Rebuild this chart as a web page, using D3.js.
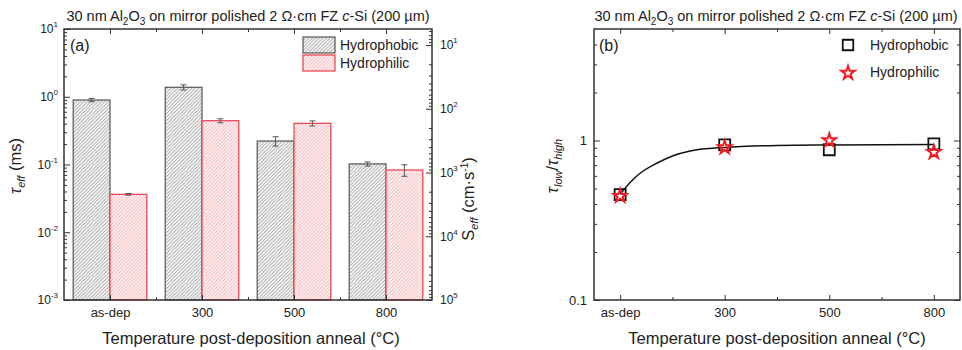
<!DOCTYPE html>
<html>
<head>
<meta charset="utf-8">
<script src="https://d3js.org/d3.v7.min.js"></script>
<style>
  body { margin: 0; background: #fff; }
  svg { font-family: "Liberation Sans", Arial, sans-serif; }
  .tick line { stroke: #333; }
  .tick text { fill: #222; }
</style>
</head>
<body>
<div id="chart"></div>
<script>
// data
const categories = ["as-dep", "300", "500", "800"];
const tauHydrophobic = [0.895, 1.38, 0.222, 0.102];      // ms
const tauHydrophobicErr = [0.05, 0.12, 0.035, 0.007];
const tauHydrophilic = [0.0363, 0.443, 0.405, 0.083];    // ms
const tauHydrophilicErr = [0.001, 0.03, 0.035, 0.016];
const ratioHydrophobic = [0.458, 0.94, 0.875, 0.953];
const ratioHydrophilic = [0.455, 0.917, 1.015, 0.857];
const fitX = [0, 0.1, 0.2, 0.35, 0.5, 0.67, 1, 1.5, 2, 3];
const fitY = [0.46, 0.55, 0.63, 0.72, 0.8, 0.86, 0.905, 0.93, 0.938, 0.944];
const seriesNames = ["Hydrophobic", "Hydrophilic"];

const W = 962, H = 350;
const svg = d3.select("#chart").append("svg")
    .attr("width", W).attr("height", H);

// hatch patterns
const defs = svg.append("defs");
function hatch(id, color, bg) {
    const p = defs.append("pattern")
        .attr("id", id)
        .attr("patternUnits", "userSpaceOnUse")
        .attr("width", 3.5).attr("height", 3.5);
    p.append("rect").attr("width", 3.5).attr("height", 3.5).attr("fill", bg);
    p.append("path")
        .attr("d", "M-1,1 l2,-2 M0,3.5 l3.5,-3.5 M2.5,4.5 l2,-2")
        .attr("stroke", color).attr("stroke-width", 0.8);
}
hatch("hatchGray", "#8a8a8a", "#f4f4f4");
hatch("hatchRed", "#f3a0a6", "#fdf0f1");

function logMinor(lo, hi) {
    const out = [];
    for (let e = Math.floor(Math.log10(lo)); e <= Math.ceil(Math.log10(hi)); e++) {
        for (let k = 2; k <= 9; k++) {
            const v = k * Math.pow(10, e);
            if (v > lo && v < hi) out.push(v);
        }
    }
    return out;
}

function powLabels(sel) {
    sel.selectAll("text").each(function(d) {
        const t = d3.select(this);
        const e = Math.round(Math.log10(d));
        t.text("");
        t.append("tspan").text("10");
        t.append("tspan").attr("dy", -6).attr("font-size", 8).text(e);
    });
}

function styleAxis(g) {
    g.select(".domain").remove();
    g.selectAll(".tick line").attr("stroke", "#333").attr("stroke-width", 1);
}

// ---------------- panel (a) ----------------
const A = { x0: 64, x1: 432, y0: 29, y1: 300 };
const xA = d3.scaleLinear().domain([-0.5, 3.5]).range([A.x0, A.x1]);
const yA = d3.scaleLog().domain([1e-3, 10]).range([A.y1, A.y0]);
const sA = d3.scaleLog().domain([1e5, 5.6]).range([A.y1, A.y0]);
const bw = 0.4;

const gA = svg.append("g");

// bars
const barData = [
    { vals: tauHydrophobic, err: tauHydrophobicErr, off: -bw, fill: "url(#hatchGray)", stroke: "#555" },
    { vals: tauHydrophilic, err: tauHydrophilicErr, off: 0, fill: "url(#hatchRed)", stroke: "#ef3d4a" }
];
barData.forEach(s => {
    gA.selectAll(null)
        .data(s.vals)
        .enter()
        .append("rect")
        .attr("x", (d, i) => xA(i + s.off))
        .attr("y", d => yA(d))
        .attr("width", xA(bw) - xA(0))
        .attr("height", d => A.y1 - yA(d))
        .attr("fill", s.fill)
        .attr("stroke", s.stroke)
        .attr("stroke-width", 1.2);
});
// error bars
barData.forEach(s => {
    s.vals.forEach((v, i) => {
        const cx = xA(i + s.off + bw / 2);
        const eg = gA.append("g").attr("stroke", "#555").attr("stroke-width", 1);
        eg.append("line").attr("x1", cx).attr("x2", cx)
            .attr("y1", yA(v - s.err[i])).attr("y2", yA(v + s.err[i]));
        [v - s.err[i], v + s.err[i]].forEach(e => {
            eg.append("line").attr("x1", cx - 3).attr("x2", cx + 3)
                .attr("y1", yA(e)).attr("y2", yA(e));
        });
    });
});

// axes (a)
gA.append("g").attr("transform", `translate(0,${A.y1})`)
    .call(d3.axisBottom(xA).tickValues([0, 1, 2, 3]).tickSize(-5).tickPadding(8)
        .tickFormat(i => categories[i]))
    .call(styleAxis)
    .selectAll("text").attr("font-size", 13);
gA.append("g").attr("transform", `translate(0,${A.y1})`)
    .call(d3.axisBottom(xA).tickValues([0.5, 1.5, 2.5]).tickSize(-3).tickFormat(""))
    .call(styleAxis);
gA.append("g").attr("transform", `translate(0,${A.y0})`)
    .call(d3.axisTop(xA).tickValues([0, 1, 2, 3]).tickSize(-5).tickFormat(""))
    .call(styleAxis);
gA.append("g").attr("transform", `translate(0,${A.y0})`)
    .call(d3.axisTop(xA).tickValues([0.5, 1.5, 2.5]).tickSize(-3).tickFormat(""))
    .call(styleAxis);

gA.append("g").attr("transform", `translate(${A.x0},0)`)
    .call(d3.axisLeft(yA).tickValues([1e-3, 1e-2, 1e-1, 1, 10]).tickSize(-6).tickPadding(6))
    .call(styleAxis)
    .call(powLabels)
    .selectAll("text").attr("font-size", 12);
gA.append("g").attr("transform", `translate(${A.x0},0)`)
    .call(d3.axisLeft(yA).tickValues(logMinor(1e-3, 10)).tickSize(-3).tickFormat(""))
    .call(styleAxis);

gA.append("g").attr("transform", `translate(${A.x1},0)`)
    .call(d3.axisRight(sA).tickValues([10, 1e2, 1e3, 1e4, 1e5]).tickSize(-6).tickPadding(8))
    .call(styleAxis)
    .call(powLabels)
    .selectAll("text").attr("font-size", 12);
gA.append("g").attr("transform", `translate(${A.x1},0)`)
    .call(d3.axisRight(sA).tickValues(logMinor(5.6, 1e5)).tickSize(-3).tickFormat(""))
    .call(styleAxis);

gA.append("rect")
    .attr("x", A.x0).attr("y", A.y0)
    .attr("width", A.x1 - A.x0).attr("height", A.y1 - A.y0)
    .attr("fill", "none").attr("stroke", "#333").attr("stroke-width", 1.5);

// legend (a)
const legA = gA.append("g").attr("transform", "translate(303,37)");
legA.selectAll("rect")
    .data(barData)
    .enter()
    .append("rect")
    .attr("x", 0).attr("y", (d, i) => i * 18)
    .attr("width", 32).attr("height", 16)
    .attr("fill", d => d.fill).attr("stroke", d => d.stroke).attr("stroke-width", 1.2);
legA.selectAll("text")
    .data(seriesNames)
    .enter()
    .append("text")
    .attr("x", 37).attr("y", (d, i) => i * 18 + 8)
    .attr("dominant-baseline", "central")
    .attr("font-size", 14).attr("fill", "#222")
    .text(d => d);

gA.append("text").attr("x", 70).attr("y", 51).attr("font-size", 16).attr("fill", "#222").text("(a)");

// ---------------- panel (b) ----------------
const B = { x0: 594, x1: 960, y0: 29, y1: 300 };
const xB = d3.scaleLinear().domain([-0.25, 3.25]).range([B.x0, B.x1]);
const yB = d3.scaleLog().domain([0.1, 5]).range([B.y1, B.y0]);
const gB = svg.append("g");

gB.append("g").attr("transform", `translate(0,${B.y1})`)
    .call(d3.axisBottom(xB).tickValues([0, 1, 2, 3]).tickSize(-5).tickPadding(8)
        .tickFormat(i => categories[i]))
    .call(styleAxis)
    .selectAll("text").attr("font-size", 13);
gB.append("g").attr("transform", `translate(0,${B.y1})`)
    .call(d3.axisBottom(xB).tickValues([0.5, 1.5, 2.5]).tickSize(-3).tickFormat(""))
    .call(styleAxis);
gB.append("g").attr("transform", `translate(0,${B.y0})`)
    .call(d3.axisTop(xB).tickValues([0, 1, 2, 3]).tickSize(-5).tickFormat(""))
    .call(styleAxis);
gB.append("g").attr("transform", `translate(0,${B.y0})`)
    .call(d3.axisTop(xB).tickValues([0.5, 1.5, 2.5]).tickSize(-3).tickFormat(""))
    .call(styleAxis);

gB.append("g").attr("transform", `translate(${B.x0},0)`)
    .call(d3.axisLeft(yB).tickValues([0.1, 1]).tickSize(-6).tickPadding(7).tickFormat(d => d < 1 ? "0.1" : "1"))
    .call(styleAxis)
    .selectAll("text").attr("font-size", 13);
gB.append("g").attr("transform", `translate(${B.x0},0)`)
    .call(d3.axisLeft(yB).tickValues(logMinor(0.1, 5)).tickSize(-3).tickFormat(""))
    .call(styleAxis);
gB.append("g").attr("transform", `translate(${B.x1},0)`)
    .call(d3.axisRight(yB).tickValues([0.1, 1]).tickSize(-6).tickFormat(""))
    .call(styleAxis);
gB.append("g").attr("transform", `translate(${B.x1},0)`)
    .call(d3.axisRight(yB).tickValues(logMinor(0.1, 5)).tickSize(-3).tickFormat(""))
    .call(styleAxis);

gB.append("rect")
    .attr("x", B.x0).attr("y", B.y0)
    .attr("width", B.x1 - B.x0).attr("height", B.y1 - B.y0)
    .attr("fill", "none").attr("stroke", "#333").attr("stroke-width", 1.5);

// fit line
const fitLine = d3.line()
    .x((d, i) => xB(fitX[i]))
    .y(d => yB(d))
    .curve(d3.curveMonotoneX);
gB.append("path")
    .datum(fitY)
    .attr("d", fitLine)
    .attr("fill", "none").attr("stroke", "#111").attr("stroke-width", 1.5);

const square = d3.symbol().type(d3.symbolSquare).size(121);
const star = d3.symbol().type(d3.symbolStar).size(55);

gB.selectAll(".sq")
    .data(ratioHydrophobic)
    .enter()
    .append("path")
    .attr("transform", (d, i) => `translate(${xB(i)},${yB(d)})`)
    .attr("d", square)
    .attr("fill", "none").attr("stroke", "#111").attr("stroke-width", 1.8);
gB.selectAll(".st")
    .data(ratioHydrophilic)
    .enter()
    .append("path")
    .attr("transform", (d, i) => `translate(${xB(i)},${yB(d) + 1})`)
    .attr("d", star)
    .attr("fill", "none").attr("stroke", "#f01c24").attr("stroke-width", 2);

// legend (b)
const legB = gB.append("g").attr("transform", "translate(848,45)");
legB.append("path").attr("d", d3.symbol().type(d3.symbolSquare).size(110))
    .attr("fill", "none").attr("stroke", "#111").attr("stroke-width", 1.8);
legB.append("path").attr("transform", "translate(0,28)").attr("d", star)
    .attr("fill", "none").attr("stroke", "#f01c24").attr("stroke-width", 2);
legB.selectAll("text")
    .data(seriesNames)
    .enter()
    .append("text")
    .attr("x", 22).attr("y", (d, i) => i * 27)
    .attr("dominant-baseline", "central")
    .attr("font-size", 14).attr("fill", "#222")
    .text(d => d);

gB.append("text").attr("x", 599).attr("y", 51).attr("font-size", 16).attr("fill", "#222").text("(b)");

// ---------------- titles and labels ----------------
function title(cx) {
    const t = svg.append("text")
        .attr("x", cx).attr("y", 21)
        .attr("text-anchor", "middle")
        .attr("font-size", 14.5).attr("fill", "#222");
    t.append("tspan").text("30 nm Al");
    t.append("tspan").attr("dy", 4).attr("font-size", 10).text("2");
    t.append("tspan").attr("dy", -4).text("O");
    t.append("tspan").attr("dy", 4).attr("font-size", 10).text("3");
    t.append("tspan").attr("dy", -4).text(" on mirror polished 2 \u03A9\u00B7cm FZ ");
    t.append("tspan").attr("font-style", "italic").text("c");
    t.append("tspan").text("-Si (200 \u00B5m)");
}
title((A.x0 + A.x1) / 2);
title((B.x0 + B.x1) / 2 - 1);

function xTitle(cx) {
    svg.append("text")
        .attr("x", cx).attr("y", 344)
        .attr("text-anchor", "middle")
        .attr("font-size", 16.5).attr("fill", "#222")
        .text("Temperature post-deposition anneal (\u00B0C)");
}
xTitle(251);
xTitle(777);

// tau_eff
const yl = svg.append("text")
    .attr("transform", "translate(21,166) rotate(-90)")
    .attr("text-anchor", "middle")
    .attr("font-size", 16.5).attr("fill", "#222");
yl.append("tspan").attr("font-style", "italic").text("\u03C4");
yl.append("tspan").attr("font-style", "italic").attr("font-size", 11).attr("dy", 4).text("eff");
yl.append("tspan").attr("dy", -4).text(" (ms)");

// S_eff
const sl = svg.append("text")
    .attr("transform", "translate(474,199) rotate(-90)")
    .attr("text-anchor", "middle")
    .attr("font-size", 16.5).attr("fill", "#222");
sl.append("tspan").text("S");
sl.append("tspan").attr("font-style", "italic").attr("font-size", 11).attr("dy", 4).text("eff");
sl.append("tspan").attr("dy", -4).text(" (cm\u00B7s");
sl.append("tspan").attr("font-size", 10).attr("dy", -6).text("-1");
sl.append("tspan").attr("dy", 6).text(")");

// tau_low / tau_high
const rl = svg.append("text")
    .attr("transform", "translate(558,166) rotate(-90)")
    .attr("text-anchor", "middle")
    .attr("font-size", 16.5).attr("fill", "#222");
rl.append("tspan").attr("font-style", "italic").text("\u03C4");
rl.append("tspan").attr("font-style", "italic").attr("font-size", 11).attr("dy", 4).text("low");
rl.append("tspan").attr("dy", -4).text("/");
rl.append("tspan").attr("font-style", "italic").text("\u03C4");
rl.append("tspan").attr("font-style", "italic").attr("font-size", 11).attr("dy", 4).text("high");
</script>
</body>
</html>
